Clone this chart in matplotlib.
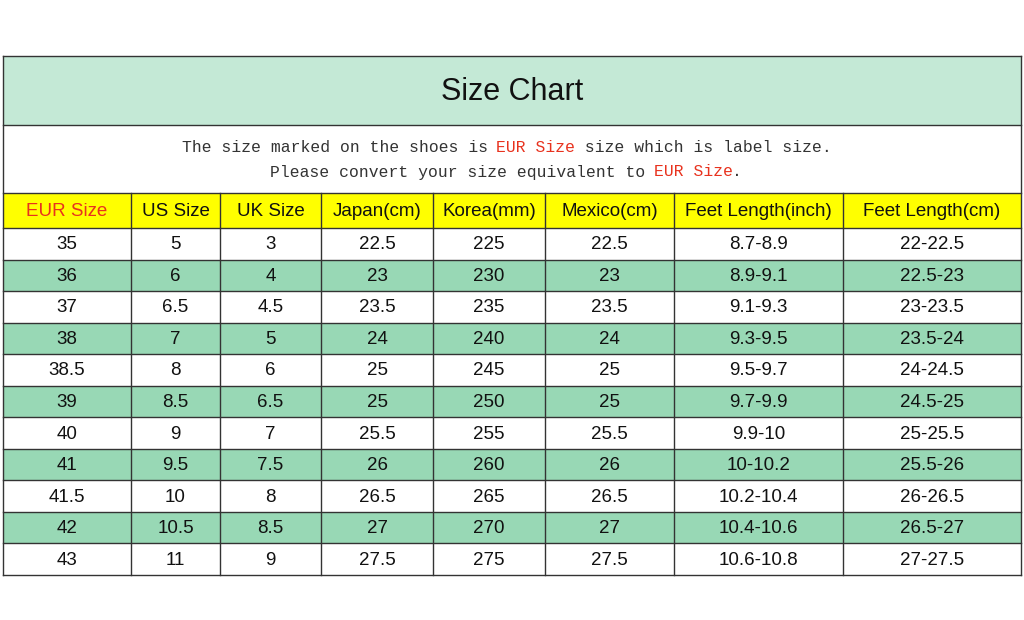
import matplotlib
matplotlib.use("Agg")
import matplotlib.pyplot as plt
from matplotlib.patches import Rectangle

title = "Size Chart"
headers = ["EUR Size", "US Size", "UK Size", "Japan(cm)", "Korea(mm)", "Mexico(cm)", "Feet Length(inch)", "Feet Length(cm)"]
eur = ["35", "36", "37", "38", "38.5", "39", "40", "41", "41.5", "42", "43"]
us = ["5", "6", "6.5", "7", "8", "8.5", "9", "9.5", "10", "10.5", "11"]
uk = ["3", "4", "4.5", "5", "6", "6.5", "7", "7.5", "8", "8.5", "9"]
japan = ["22.5", "23", "23.5", "24", "25", "25", "25.5", "26", "26.5", "27", "27.5"]
korea = ["225", "230", "235", "240", "245", "250", "255", "260", "265", "270", "275"]
mexico = ["22.5", "23", "23.5", "24", "25", "25", "25.5", "26", "26.5", "27", "27.5"]
feet_inch = ["8.7-8.9", "8.9-9.1", "9.1-9.3", "9.3-9.5", "9.5-9.7", "9.7-9.9", "9.9-10", "10-10.2", "10.2-10.4", "10.4-10.6", "10.6-10.8"]
feet_cm = ["22-22.5", "22.5-23", "23-23.5", "23.5-24", "24-24.5", "24.5-25", "25-25.5", "25.5-26", "26-26.5", "26.5-27", "27-27.5"]
columns = [eur, us, uk, japan, korea, mexico, feet_inch, feet_cm]

fig = plt.figure(figsize=(10.24, 6.2), dpi=100)
ax = fig.add_axes([0, 0, 1, 1])
ax.set_xlim(0, 1024); ax.set_ylim(620, 0); ax.axis("off")

xs = [3, 131, 220, 321, 433, 545, 674, 843, 1021]
top, t_bot, n_bot, h_bot, bottom = 56, 125, 193, 228, 575
nrows = len(eur)
rh = (bottom - h_bot) / nrows
lc = "#333333"; lw = 1.0

ax.add_patch(Rectangle((xs[0], top), xs[-1]-xs[0], t_bot-top, fc="#c4e9d6", ec="none"))
ax.add_patch(Rectangle((xs[0], n_bot), xs[-1]-xs[0], h_bot-n_bot, fc="#ffff00", ec="none"))
for i in range(nrows):
    if i % 2 == 1:
        y = h_bot + i*rh
        ax.add_patch(Rectangle((xs[0], y), xs[-1]-xs[0], rh, fc="#98d8b5", ec="none"))

ax.text(512, (top+t_bot)/2 + 2, title, ha="center", va="center", fontsize=22, family="Liberation Sans", color="#111")
mono = "Liberation Mono"
fs = 11.8
cw = 0.6 * fs * 100 / 72
def line(y, parts):
    total = sum(len(p) for p, _ in parts)
    x = 506 - total*cw/2
    for p, c in parts:
        ax.text(x, y, p, ha="left", va="center", fontsize=fs, family=mono, color=c)
        x += len(p)*cw
line(148, [("The size marked on the shoes is ", "#333"), ("EUR Size", "#e8321e"), (" size which is label size.", "#333")])
line(172, [("Please convert your size equivalent to ", "#333"), ("EUR Size", "#e8321e"), (".", "#333")])

for j, h in enumerate(headers):
    ax.text((xs[j]+xs[j+1])/2, (n_bot+h_bot)/2+1, h, ha="center", va="center", fontsize=13.5,
            family="Liberation Sans", color="#e8321e" if j == 0 else "#111")
for j, col in enumerate(columns):
    for i, v in enumerate(col):
        ax.text((xs[j]+xs[j+1])/2, h_bot + (i+0.5)*rh + 1, v, ha="center", va="center",
                fontsize=13.5, family="Liberation Sans", color="#111")

for y in [top, t_bot, n_bot, h_bot] + [h_bot + i*rh for i in range(1, nrows+1)]:
    ax.plot([xs[0], xs[-1]], [y, y], color=lc, lw=lw)
ax.plot([xs[0], xs[0]], [top, bottom], color=lc, lw=lw)
ax.plot([xs[-1], xs[-1]], [top, bottom], color=lc, lw=lw)
for x in xs[1:-1]:
    ax.plot([x, x], [n_bot, bottom], color=lc, lw=lw)

fig.savefig("out.png", dpi=100, facecolor="white")
